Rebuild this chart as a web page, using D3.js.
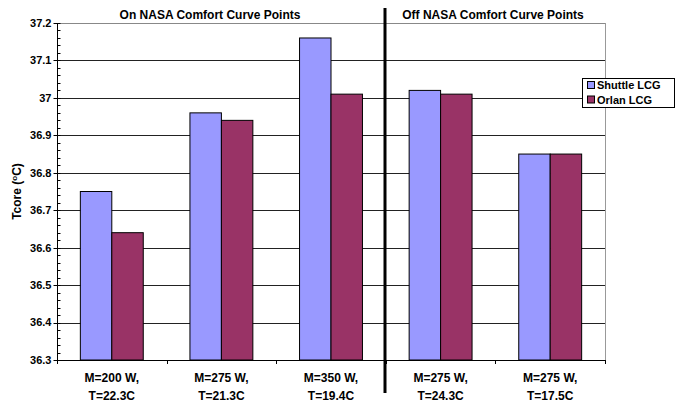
<!DOCTYPE html>
<html><head><meta charset="utf-8">
<script src="https://cdn.jsdelivr.net/npm/d3@7"></script>
<style>body{margin:0;background:#fff}svg{display:block;font-family:"Liberation Sans",Arial,sans-serif;font-weight:bold}</style>
</head><body><svg id="c" width="675" height="402"></svg>
<script>
const categories = [["M=200 W,","T=22.3C"],["M=275 W,","T=21.3C"],["M=350 W,","T=19.4C"],["M=275 W,","T=24.3C"],["M=275 W,","T=17.5C"]];
const seriesNames = ["Shuttle LCG","Orlan LCG"];
const shuttle = [36.75,36.96,37.16,37.02,36.85];
const orlan = [36.64,36.94,37.01,37.01,36.85];
const yTicks = [36.3,36.4,36.5,36.6,36.7,36.8,36.9,37,37.1,37.2];
const sectionTitles = ["On NASA Comfort Curve Points","Off NASA Comfort Curve Points"];
const colors = ["#9999FF","#993366"];

const svg = d3.select("#c");
const L=57,R=605,T=23,B=360;
const x = d3.scaleBand().domain(d3.range(categories.length)).range([L,R]).paddingInner(0).paddingOuter(0);
const y = d3.scaleLinear().domain([36.3,37.2]).range([B,T]);
const bw = x.bandwidth()*0.287;

// gridlines
svg.append("g").selectAll("line").data(yTicks.slice(1)).join("line")
  .attr("x1",L).attr("x2",R).attr("y1",d=>Math.round(y(d))+0.5).attr("y2",d=>Math.round(y(d))+0.5)
  .attr("stroke",(d,i)=>i===yTicks.length-2?"#888":"#222").attr("stroke-width",1);
// right border
svg.append("line").attr("x1",R+0.5).attr("x2",R+0.5).attr("y1",T).attr("y2",B).attr("stroke","#999");

// bars
const data = [shuttle,orlan];
data.forEach((vals,s)=>{
  svg.append("g").selectAll("rect").data(vals).join("rect")
    .attr("x",(d,i)=>x(i)+x.bandwidth()/2 - bw + s*bw)
    .attr("width",bw)
    .attr("y",d=>y(d))
    .attr("height",d=>B-y(d))
    .attr("fill",colors[s]).attr("stroke","#000").attr("stroke-width",1);
});

// y axis
const ya = svg.append("g").attr("transform",`translate(${L+0.5},0)`);
ya.append("line").attr("y1",T).attr("y2",B).attr("stroke","#000");
const minor = d3.range(0,46).map(i=>36.3+i*0.02);
ya.selectAll(".mn").data(minor).join("line").attr("class","mn")
  .attr("x1",0).attr("x2",3).attr("y1",d=>Math.round(y(d))+0.5).attr("y2",d=>Math.round(y(d))+0.5).attr("stroke","#000");
ya.selectAll(".mj").data(yTicks).join("line").attr("class","mj")
  .attr("x1",-4).attr("x2",0).attr("y1",d=>Math.round(y(d))+0.5).attr("y2",d=>Math.round(y(d))+0.5).attr("stroke","#000");
ya.selectAll("text").data(yTicks).join("text")
  .attr("x",-6).attr("y",d=>y(d)).attr("dy","0.35em").attr("text-anchor","end")
  .attr("font-size","11px").text(d=>d3.format("")(Math.round(d*10)/10));

// x axis
const xa = svg.append("g");
xa.append("line").attr("x1",L).attr("x2",R).attr("y1",B+0.5).attr("y2",B+0.5).attr("stroke","#000");
xa.selectAll(".tk").data(d3.range(categories.length+1)).join("line").attr("class","tk")
  .attr("x1",i=>Math.round(L+i*x.step())+0.5).attr("x2",i=>Math.round(L+i*x.step())+0.5)
  .attr("y1",B).attr("y2",B+4).attr("stroke","#000");
categories.forEach((c,i)=>{
  const t = xa.append("text").attr("text-anchor","middle").attr("font-size","12px");
  t.append("tspan").attr("x",x(i)+x.bandwidth()/2).attr("y",382).text(c[0]);
  t.append("tspan").attr("x",x(i)+x.bandwidth()/2).attr("y",400).text(c[1]);
});

// y label
svg.append("text").attr("transform",`translate(21,${(T+B)/2}) rotate(-90)`)
  .attr("text-anchor","middle").attr("font-size","12px")
  .html('Tcore (<tspan dy="-4" font-size="8px">o</tspan><tspan dy="4">C)</tspan>');

// separator
svg.append("line").attr("x1",385).attr("x2",385).attr("y1",8).attr("y2",393).attr("stroke","#000").attr("stroke-width",3);

// section titles
svg.append("text").attr("x",210).attr("y",19).attr("text-anchor","middle").attr("font-size","12px").text(sectionTitles[0]);
svg.append("text").attr("x",493).attr("y",19).attr("text-anchor","middle").attr("font-size","12px").text(sectionTitles[1]);

// legend
const lg = svg.append("g");
lg.append("rect").attr("x",582.5).attr("y",78.5).attr("width",92).attr("height",29).attr("fill","#fff").attr("stroke","#000");
seriesNames.forEach((n,i)=>{
  lg.append("rect").attr("x",587.5).attr("y",81.5+i*14.5).attr("width",7).attr("height",7).attr("fill",colors[i]).attr("stroke","#000");
  lg.append("text").attr("x",597).attr("y",89+i*14.5).attr("font-size","11px").text(n);
});
</script></body></html>
